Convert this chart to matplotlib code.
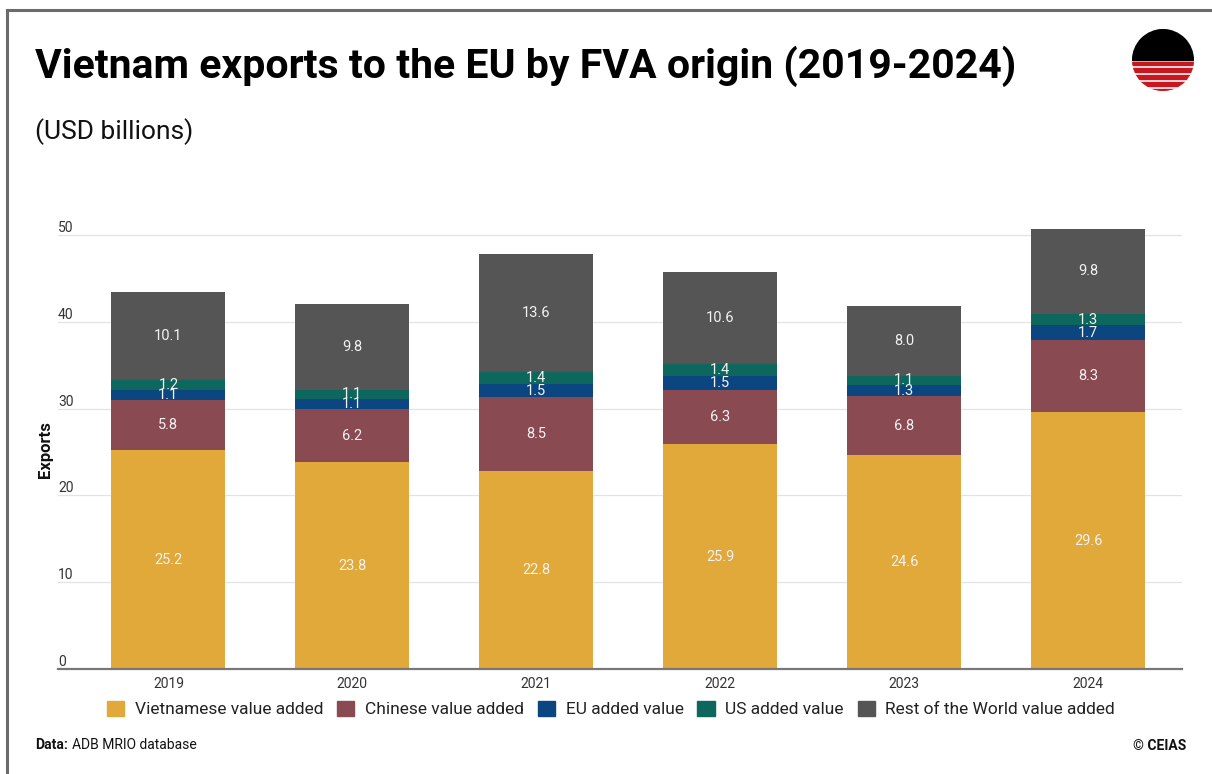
import matplotlib
matplotlib.use("Agg")
import matplotlib.pyplot as plt
import matplotlib.patches as mpatches
import matplotlib.transforms as mtransforms
import numpy as np

plt.rcParams['font.family'] = ['Roboto', 'DejaVu Sans']

# ---- data (USD billions) ----
years = ["2019", "2020", "2021", "2022", "2023", "2024"]
vietnamese_va = [25.2, 23.8, 22.8, 25.9, 24.6, 29.6]
chinese_va = [5.8, 6.2, 8.5, 6.3, 6.8, 8.3]
eu_va = [1.1, 1.1, 1.5, 1.5, 1.3, 1.7]
us_va = [1.2, 1.1, 1.4, 1.4, 1.1, 1.3]
row_va = [10.1, 9.8, 13.6, 10.6, 8.0, 9.8]

series_names = ["Vietnamese value added", "Chinese value added", "EU added value",
                "US added value", "Rest of the World value added"]
series_values = [vietnamese_va, chinese_va, eu_va, us_va, row_va]
series_colors = ["#E1A83A", "#8A4A52", "#0B4680", "#0D675C", "#555555"]

y_ticks = [0, 10, 20, 30, 40, 50]

W, H = 1212, 774
fig = plt.figure(figsize=(W / 100, H / 100), dpi=100)

# outer frame (left and top edges)
fig.add_artist(plt.Line2D([7 / W, 7 / W], [0, 1 - 10 / H], color="#6b6b6b", lw=2.2,
                          transform=fig.transFigure))
fig.add_artist(plt.Line2D([7 / W, 1], [1 - 10 / H, 1 - 10 / H], color="#6b6b6b", lw=2.2,
                          transform=fig.transFigure))

ax_left, ax_right = 58 / W, 1182 / W
ax_bottom = 1 - 669 / H
ymax = 52.0
ax_top = 1 - (669 - ymax * 8.68) / H
ax = fig.add_axes([ax_left, ax_bottom, ax_right - ax_left, ax_top - ax_bottom])

x = np.arange(len(years))
bottom = np.zeros(len(years))
bar_w = 0.62
for name, vals, col in zip(series_names, series_values, series_colors):
    vals = np.array(vals)
    ax.bar(x, vals, bar_w, bottom=bottom, color=col, label=name, zorder=2)
    for xi, b, v in zip(x, bottom, vals):
        ax.text(xi, b + v / 2, f"{v:.1f}", ha="center", va="center",
                color="#f2f2f2", fontsize=10.5, zorder=3)
    bottom = bottom + vals

ax.set_xlim(-0.6, 5.51)
ax.set_ylim(0, ymax)

# gridlines and y labels sitting above them
for t in y_ticks[1:]:
    ax.axhline(t, color="#e3e3e3", lw=0.9, zorder=0)
trans = mtransforms.blended_transform_factory(ax.transAxes, ax.transData)
for t in y_ticks:
    ax.text(0.0, t, f"{t}", transform=trans, ha="left", va="bottom",
            fontsize=10, color="#333333")

ax.set_yticks([])
ax.set_xticks(x)
ax.set_xticklabels(years, fontsize=10, color="#333333")
ax.tick_params(axis="x", length=0, pad=6)
for s in ["top", "right", "left"]:
    ax.spines[s].set_visible(False)
ax.spines["bottom"].set_color("#777777")
ax.spines["bottom"].set_linewidth(1.6)
ax.spines["bottom"].set_zorder(4)

fig.text(46 / W, 1 - 450 / H, "Exports", rotation=90, ha="center", va="center",
         fontsize=12, fontweight="bold", color="#111111")

# legend
handles = [mpatches.Patch(color=c, label=n) for n, c in zip(series_names, series_colors)]
fig.legend(handles=handles, loc="center", bbox_to_anchor=(611 / W, 1 - 709 / H), ncol=5,
           frameon=False, fontsize=12.5, handlelength=1.0, handleheight=1.0,
           handletextpad=0.6, columnspacing=0.8, labelcolor="#222222")

# titles
fig.text(35 / W, 1 - 78 / H, "Vietnam exports to the EU by FVA origin (2019-2024)",
         fontsize=29.5, fontweight="bold", color="#000000", ha="left", va="baseline")
fig.text(35 / W, 1 - 139 / H, "(USD billions)", fontsize=19, color="#111111",
         ha="left", va="baseline")

# footer: bold "Data:" followed by the source name
src = fig.text(35 / W, 1 - 749 / H, "Data:", fontsize=10, fontweight="bold",
               color="#111111", ha="left", va="baseline")
fig.add_artist(plt.Annotation("ADB MRIO database", xy=(1, 0), xycoords=src,
                              xytext=(3, 0), textcoords="offset points",
                              fontsize=10, color="#111111", ha="left", va="bottom"))
fig.text(1186 / W, 1 - 750 / H, "© CEIAS", fontsize=10, fontweight="bold",
         color="#111111", ha="right", va="baseline")

# logo: black upper half and red stripes below
cx, cy, r = 1163, 60, 31
lax = fig.add_axes([(cx - r) / W, 1 - (cy + r) / H, 2 * r / W, 2 * r / H])
lax.set_xlim(-1, 1)
lax.set_ylim(-1, 1)
lax.axis("off")
clip = mpatches.Circle((0, 0), 1, transform=lax.transData)
top = mpatches.Rectangle((-1, 0.0), 2, 1, color="black")
top.set_clip_path(clip)
lax.add_patch(top)
stripes = [(-0.06, -0.17), (-0.26, -0.39), (-0.48, -0.62), (-0.70, -0.84), (-0.92, -1.0)]
for y0, y1 in stripes:
    rp = mpatches.Rectangle((-1, y1), 2, y0 - y1, color="#C8171E")
    rp.set_clip_path(clip)
    lax.add_patch(rp)

fig.savefig("out.png", dpi=100)
